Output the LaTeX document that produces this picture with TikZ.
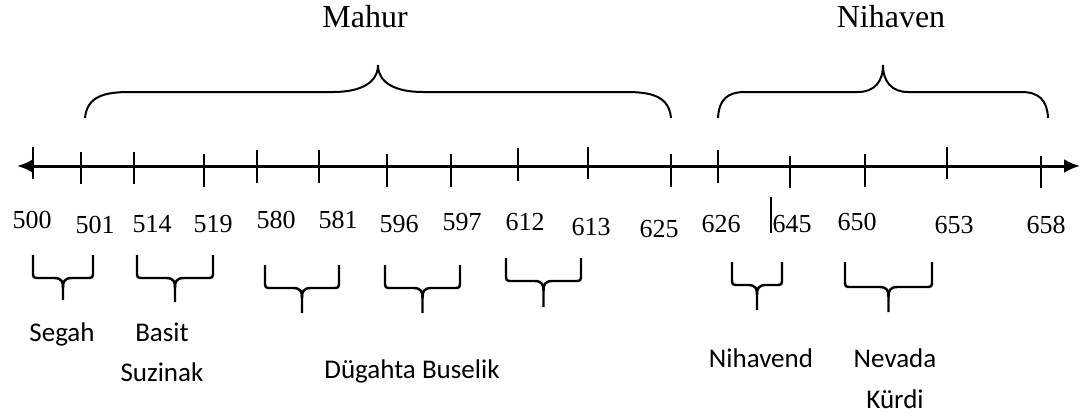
\documentclass[tikz,border=0pt]{standalone}
\usepackage{fontspec}
\setmainfont{Liberation Serif}
\newfontfamily\labfont{Carlito}
\usetikzlibrary{arrows.meta}
\tikzset{num/.style={anchor=base,inner sep=0pt,font=\fontsize{13}{15}\selectfont},
         title/.style={anchor=base,inner sep=0pt,font=\fontsize{16}{19}\selectfont},
         mak/.style={anchor=base,inner sep=0pt,font=\labfont\fontsize{13.5}{16}\selectfont},
         axis/.style={line width=1.5pt,{Latex[length=8pt,width=7pt]}-{Latex[length=8pt,width=7pt]}},
         tick/.style={line width=1pt},
         topbr/.style={line width=1pt},
         lowbr/.style={line width=1.2pt}}
% lower brace: left, right, top of sides, bar, tip
\newcommand{\lowbrace}[5]{%
  \pgfmathsetmacro{\bmid}{(#1+#2)/2}
  \draw[lowbr] (#1,#3) -- (#1,#4-7) .. controls (#1,#4) .. (#1+7,#4)
    -- (\bmid-9,#4) .. controls (\bmid-1,#4) and (\bmid,#4+4) .. (\bmid,#4+10) -- (\bmid,#5);
  \draw[lowbr] (#2,#3) -- (#2,#4-7) .. controls (#2,#4) .. (#2-7,#4)
    -- (\bmid+9,#4) .. controls (\bmid+1,#4) and (\bmid,#4+4) .. (\bmid,#4+10);
}
\begin{document}
\begin{tikzpicture}[x=0.5pt,y=-0.5pt]
    \useasboundingbox (0,0) rectangle (1090,418);

    \coordinate (lo) at (17,166);
    \coordinate (hi) at (1080,166);
    \draw[axis] (lo) -- (hi);

    \draw[tick] (33,147) -- (33,179);
    \draw[tick] (81,152) -- (81,184);
    \draw[tick] (134,152) -- (134,184);
    \draw[tick] (204,154) -- (204,187);
    \draw[tick] (257,150) -- (257,183);
    \draw[tick] (319,150) -- (319,183);
    \draw[tick] (387,154) -- (387,187);
    \draw[tick] (451,154) -- (451,187);
    \draw[tick] (518,148) -- (518,181);
    \draw[tick] (588,147) -- (588,179);
    \draw[tick] (671,154) -- (671,187);
    \draw[tick] (718,150) -- (718,183);
    \draw[tick] (790,156) -- (790,188);
    \draw[tick] (865,154) -- (865,187);
    \draw[tick] (947,147) -- (947,179);
    \draw[tick] (1041,156) -- (1041,188);
    \draw[line width=0.8pt] (771,197) -- (771,233);

    \node[num] (n500) at (32,228) {500};
    \node[num] (n501) at (95,233) {501};
    \node[num] (n514) at (152,232) {514};
    \node[num] (n519) at (213,232) {519};
    \node[num] (n580) at (276,228) {580};
    \node[num] (n581) at (338,228) {581};
    \node[num] (n596) at (399,232) {596};
    \node[num] (n597) at (462,230) {597};
    \node[num] (n612) at (525,230) {612};
    \node[num] (n613) at (591,235) {613};
    \node[num] (n625) at (659,237) {625};
    \node[num] (n626) at (721,232) {626};
    \node[num] (n645) at (792,232) {645};
    \node[num] (n650) at (857,230) {650};
    \node[num] (n653) at (954,233) {653};
    \node[num] (n658) at (1046,233) {658};

    % upper braces
    \draw[topbr] (85,118) .. controls (87,96) and (105,92) .. (130,92) -- (333,92)
        .. controls (362,92) and (378,82) .. (378,65);
    \draw[topbr] (671,118) .. controls (669,96) and (651,92) .. (626,92) -- (423,92)
        .. controls (394,92) and (378,82) .. (378,65);
    \draw[topbr] (718,118) .. controls (719,99) and (728,92) .. (745,92) -- (858,92)
        .. controls (874,92) and (883,82) .. (883,65);
    \draw[topbr] (1048,118) .. controls (1047,99) and (1038,92) .. (1021,92) -- (908,92)
        .. controls (892,92) and (883,82) .. (883,65);
    \node[title] (mahur) at (365,27) {Mahur};
    \node[title] (nihaven) at (891,27) {Nihaven};

    % lower braces
    \lowbrace{33}{93}{255}{278}{300}
    \lowbrace{137}{213}{255}{278}{302}
    \lowbrace{265}{339}{265}{288}{313}
    \lowbrace{385}{460}{265}{288}{313}
    \lowbrace{506}{581}{258}{281}{307}
    \lowbrace{732}{782}{262}{285}{310}
    \lowbrace{845}{932}{262}{287}{312}

    \node[mak] (segah) at (62,341) {Segah};
    \node[mak] (basit) at (162,341) {Basit};
    \node[mak] (suzinak) at (162,381) {Suzinak};
    \node[mak] (dugahta) at (412,378) {Dügahta Buselik};
    \node[mak] (nihavend) at (761,367) {Nihavend};
    \node[mak] (nevada) at (895,367) {Nevada};
    \node[mak] (kurdi) at (895,408) {Kürdi};
\end{tikzpicture}
\end{document}
